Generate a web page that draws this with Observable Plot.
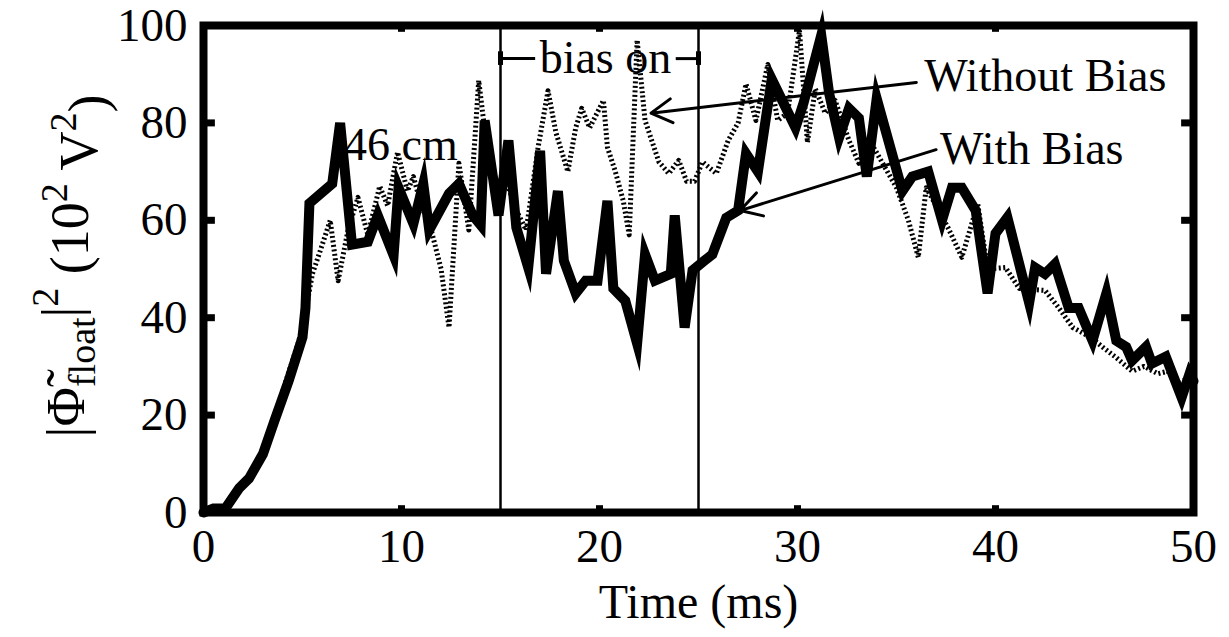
<!DOCTYPE html>
<html>
<head>
<meta charset="utf-8">
<script src="https://cdn.jsdelivr.net/npm/d3@7"></script>
<script src="https://cdn.jsdelivr.net/npm/@observablehq/plot@0.6"></script>
<style>
  html, body { margin: 0; padding: 0; background: #fff; }
  #chart svg { display: block; }
</style>
</head>
<body>
<div id="chart"></div>
<script>
// ---- Data ----
// With Bias (thick solid line)
const tWith = [0, 0.5, 1.1, 1.8, 2.3, 3.0, 3.6, 4.3, 5.0, 5.15, 5.35, 6.5, 6.9, 7.5, 8.3, 8.8, 9.6, 9.85, 10.6, 11.1, 11.4, 12.4, 12.9, 13.6, 14.0, 14.2, 14.9, 15.4, 15.8, 16.4, 17.0, 17.3, 17.9, 18.2, 18.8, 19.3, 19.9, 20.4, 20.7, 21.3, 21.9, 22.3, 22.8, 23.6, 23.8, 24.3, 24.7, 25.3, 25.7, 26.4, 27.0, 27.4, 28.0, 28.7, 29.9, 30.3, 31.2, 31.6, 32.1, 32.6, 33.1, 33.5, 34.0, 35.3, 35.8, 36.6, 37.3, 37.8, 38.3, 39.0, 39.6, 40.0, 40.6, 41.7, 42.0, 42.5, 43.0, 43.7, 44.2, 44.9, 45.6, 46.1, 46.6, 46.9, 47.6, 47.9, 48.6, 49.4, 49.8, 50.0];
const vWith = [0, 0.8, 0.8, 5, 7, 12, 19, 27, 36, 42, 63.5, 67.5, 80, 55, 55.6, 61, 52.8, 66.7, 59.3, 67.5, 58, 65.5, 67.5, 61, 59, 80.5, 61, 76.4, 58.5, 50.3, 74.3, 49, 66, 51.7, 45, 47.6, 47.6, 64, 46, 43.5, 34.7, 53, 47.6, 49, 61, 38, 49.7, 51.7, 53, 60.5, 62, 73.7, 70, 89, 79, 84, 98, 86, 77, 83, 81, 69, 85, 66, 69, 70, 60, 66.7, 66.7, 62, 45, 57.3, 60.6, 43, 50.3, 49, 51, 42, 42, 35.3, 45, 35.3, 34, 31.2, 34, 30.6, 32, 23.6, 28.5, 27];

// Without Bias (dotted line)
const tWithout = [0, 0.5, 1.0, 1.7, 2.3, 3.0, 3.6, 4.2, 4.8, 5.1, 5.5, 6.0, 6.4, 6.8, 7.3, 7.8, 8.3, 8.9, 9.3, 9.8, 10.3, 10.6, 11.0, 11.5, 12.0, 12.4, 12.9, 13.4, 13.9, 14.4, 14.9, 15.3, 15.8, 16.3, 16.9, 17.4, 17.8, 18.4, 18.8, 19.1, 19.5, 20.2, 20.4, 20.8, 21.2, 21.5, 21.9, 22.3, 23.0, 23.5, 24.0, 24.4, 24.8, 25.2, 25.9, 26.5, 27.0, 27.4, 27.9, 28.5, 29.0, 29.5, 30.1, 30.5, 30.9, 31.4, 31.9, 32.6, 33.1, 33.7, 34.3, 35.0, 35.6, 36.1, 36.5, 37.0, 37.6, 38.3, 39.1, 39.6, 40.5, 41.2, 42.5, 43.2, 43.9, 44.8, 45.4, 46.1, 46.9, 47.5, 48.2, 48.7, 49.2, 50.0];
const vWithout = [0, 0.8, 1, 4.5, 7.5, 12.5, 19.5, 27.5, 35, 40, 49, 55, 60, 47.6, 58, 64.7, 57, 67, 63, 74, 66, 69, 63, 58, 50, 38, 71.7, 58, 88.7, 72, 64, 68, 62, 58, 75, 86.6, 78, 70, 79, 83, 79, 84.6, 75, 70, 64, 57, 97, 80.5, 72, 69.6, 72.3, 68, 68, 72, 69.6, 76.4, 80, 88, 80.5, 92, 80.5, 82, 99, 76, 87, 82, 84.6, 76.4, 71.7, 76, 71.7, 66.7, 60, 52.4, 66.7, 63, 58.5, 52.4, 63.4, 50, 50.3, 46, 45.6, 42, 38, 36, 34, 31.8, 29, 30, 28.5, 29, 26.5, 28];

const xTicks = [0, 10, 20, 30, 40, 50];
const yTicks = [0, 20, 40, 60, 80, 100];
const innerXTicks = [10, 20, 30, 40];
const innerYTicks = [20, 40, 60, 80];
const biasEdges = [15, 25];

// annotations
const labelTexts = ["46 cm", "Without Bias", "With Bias"];
const labelX = [7.1, 36.4, 37.2];
const labelY = [75.5, 89.5, 74.5];
const arrowX1 = [36.0, 37.0];
const arrowY1 = [88.3, 74.5];
const arrowX2 = [22.6, 27.1];
const arrowY2 = [82.0, 62.0];
const biasLabel = "bias on";
const biasLabelX = 20.3;
const biasBarY = 93.2;
const biasGapX = [16.75, 23.85];

// ---- Build tables ----
const withData = tWith.map((t, i) => ({t, v: vWith[i]}));
const withoutData = tWithout.map((t, i) => ({t, v: vWithout[i]}));
const labels = labelTexts.map((s, i) => ({s, x: labelX[i], y: labelY[i]}));
const arrows = arrowX1.map((x1, i) => ({x1, y1: arrowY1[i], x2: arrowX2[i], y2: arrowY2[i]}));
const biasSegs = [
  {x1: biasEdges[0], x2: biasGapX[0], y: biasBarY},
  {x1: biasGapX[1], x2: biasEdges[1], y: biasBarY}
];

const serif = "Liberation Serif, Times New Roman, serif";

const chart = Plot.plot({
  width: 1229,
  height: 637,
  marginLeft: 203,
  marginRight: 36,
  marginTop: 25,
  marginBottom: 125,
  style: {fontFamily: serif, background: "#fff", color: "#000"},
  x: {domain: [0, 50], ticks: xTicks},
  y: {domain: [0, 100], ticks: yTicks},
  marks: [
    Plot.ruleX(biasEdges, {y1: 0, y2: 100, stroke: "#000", strokeWidth: 2.5}),
    Plot.line(withoutData, {x: "t", y: "v", stroke: "#000", strokeWidth: 5, strokeDasharray: "2,2.5", strokeLinecap: "butt", strokeLinejoin: "round"}),
    Plot.line(withData, {x: "t", y: "v", stroke: "#000", strokeWidth: 10, strokeLinejoin: "miter", strokeMiterlimit: 6}),
    // inward tick stubs
    Plot.ruleY(innerYTicks, {x1: 0, x2: 0.6, stroke: "#000", strokeWidth: 7}),
    Plot.ruleY(innerYTicks, {x1: 49.4, x2: 50, stroke: "#000", strokeWidth: 7}),
    Plot.ruleX(innerXTicks, {y1: 0, y2: 1.4, stroke: "#000", strokeWidth: 7}),
    Plot.ruleX(innerXTicks, {y1: 98.6, y2: 100, stroke: "#000", strokeWidth: 7}),
    // bias on bar
    Plot.link(biasSegs, {x1: "x1", x2: "x2", y1: "y", y2: "y", stroke: "#000", strokeWidth: 3}),
    Plot.ruleX(biasEdges, {y1: biasBarY - 1.4, y2: biasBarY + 1.4, stroke: "#000", strokeWidth: 5}),
    Plot.text([biasLabel], {x: biasLabelX, y: biasBarY, text: d => d, fontSize: 46, fontFamily: serif, fill: "#000", textAnchor: "middle"}),
    // arrows
    Plot.arrow(arrows, {x1: "x1", y1: "y1", x2: "x2", y2: "y2", stroke: "#000", strokeWidth: 3, headLength: 12, bend: 0}),
    // labels
    Plot.text(labels, {x: "x", y: "y", text: "s", fontSize: 46, fontFamily: serif, fill: "#000", textAnchor: "start"}),
    Plot.frame({stroke: "#000", strokeWidth: 8}),
    Plot.axisX({ticks: xTicks, tickSize: 0, tickPadding: 16, fontSize: 47, label: null, fontFamily: serif}),
    Plot.axisY({ticks: yTicks, tickSize: 0, tickPadding: 16, fontSize: 47, label: null, fontFamily: serif}),
    Plot.text(["Time (ms)"], {frameAnchor: "bottom", lineAnchor: "top", dy: 71, text: d => d, fontSize: 48, fontFamily: serif, fill: "#000"})
  ]
});

document.getElementById("chart").appendChild(chart);

// y-axis title with sub/superscripts
const svg = d3.select(chart);
const yl = svg.append("text")
  .attr("transform", "translate(84,266) rotate(-90)")
  .attr("text-anchor", "middle")
  .attr("font-family", serif)
  .attr("font-size", 54)
  .attr("fill", "#000");
yl.append("tspan").text("|\u03A6\u0303");
yl.append("tspan").attr("dy", "0.3em").attr("font-size", 38).text("float");
yl.append("tspan").attr("dy", "-0.3em").text("|");
yl.append("tspan").attr("dy", "-0.55em").attr("font-size", 38).text("2");
yl.append("tspan").attr("dy", "0.55em").text(" (10");
yl.append("tspan").attr("dy", "-0.55em").attr("font-size", 38).text("2");
yl.append("tspan").attr("dy", "0.55em").text(" V");
yl.append("tspan").attr("dy", "-0.55em").attr("font-size", 38).text("2");
yl.append("tspan").attr("dy", "0.55em").text(")");
</script>
</body>
</html>
